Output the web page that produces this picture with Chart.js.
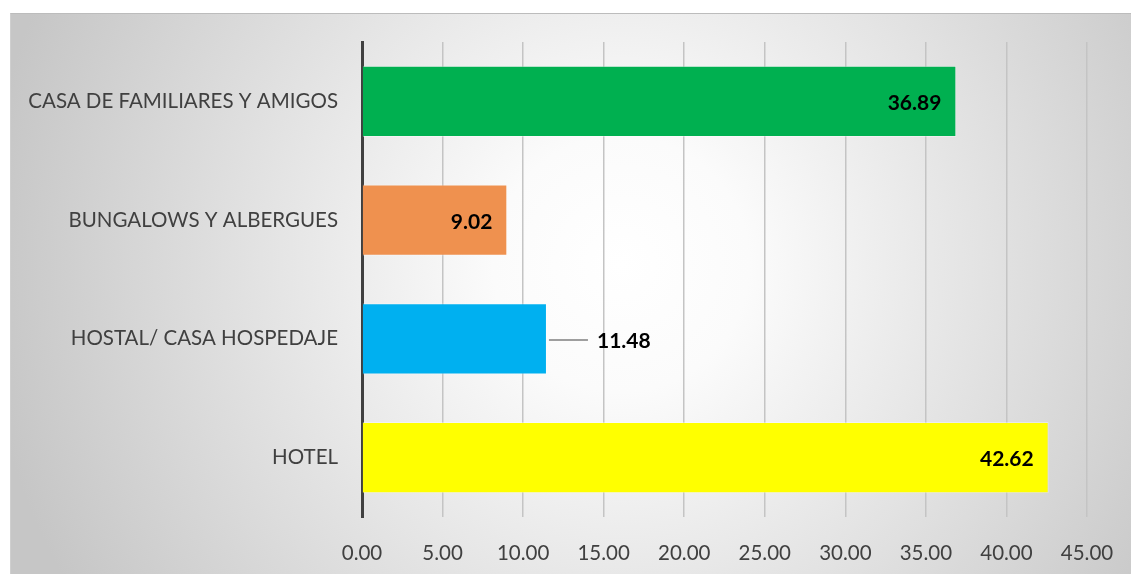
<!DOCTYPE html>
<html>
<head>
<meta charset="utf-8">
<script src="https://cdn.jsdelivr.net/npm/chart.js@4"></script>
<style>
  body { margin: 0; background: #fff; overflow: hidden; }
  #wrap {
    position: absolute; left: 10px; top: 13px; width: 1121px; height: 561px;
    border-top: 1.5px solid #bcbcbc; border-left: 1.5px solid #cfcfcf;
    background: radial-gradient(circle 640px at 610px 250px, #ffffff 0%, #fbfbfb 20%, #c6c6c6 100%);
  }
</style>
</head>
<body>
<div id="wrap"><canvas id="hotelChart" width="1120" height="560"></canvas></div>
<script>
const categories = ['CASA DE FAMILIARES Y AMIGOS', 'BUNGALOWS Y ALBERGUES', 'HOSTAL/ CASA HOSPEDAJE', 'HOTEL'];
const values = [36.89, 9.02, 11.48, 42.62];
const barColors = ['#00B050', '#EF914F', '#00B0F0', '#FFFF00'];
const tickMax = 45;
const tickStep = 5;

const FONT = 'Lato, "Open Sans", sans-serif';

// value labels, the hostal one sits outside with a short leader line
const valueLabels = {
  id: 'valueLabels',
  afterDatasetsDraw(chart) {
    const c = chart.ctx;
    const meta = chart.getDatasetMeta(0);
    c.save();
    c.font = 'bold 21px ' + FONT;
    c.fillStyle = '#000';
    c.textBaseline = 'middle';
    meta.data.forEach(function (bar, i) {
      const txt = values[i].toFixed(2);
      if (i === 2) {
        c.strokeStyle = '#7f7f7f';
        c.lineWidth = 1.5;
        c.beginPath();
        c.moveTo(bar.x + 2, bar.y + 1);
        c.lineTo(bar.x + 41, bar.y + 1);
        c.stroke();
        c.textAlign = 'left';
        c.fillText(txt, bar.x + 50, bar.y + 2);
      } else {
        c.textAlign = 'right';
        c.fillText(txt, bar.x - 15, bar.y + 2);
      }
    });
    c.restore();
  }
};

const ctx = document.getElementById('hotelChart').getContext('2d');

var barChart = new Chart(ctx, {
  type: 'bar',
  data: {
    labels: categories,
    datasets: [{
      data: values,
      backgroundColor: barColors,
      borderColor: 'rgba(255,255,255,0.35)',
      borderWidth: 1,
      barPercentage: 0.6,
      categoryPercentage: 1
    }]
  },
  plugins: [valueLabels],
  options: {
    indexAxis: 'y',
    responsive: false,
    animation: false,
    layout: { padding: { top: 28, right: 44, bottom: 0, left: 0 } },
    plugins: { legend: { display: false }, tooltip: { enabled: false } },
    scales: {
      x: {
        min: 0,
        max: tickMax,
        ticks: {
          stepSize: tickStep,
          padding: 24,
          color: '#404040',
          font: { family: FONT, size: 20.5 },
          callback: function (v) { return v.toFixed(2); }
        },
        grid: { color: '#c4c4c4', lineWidth: 1.5, drawTicks: false },
        border: { display: false },
        afterFit: function (s) {
          s.height = 57;
          s.paddingLeft = 0;
          s.paddingRight = 0;
        }
      },
      y: {
        ticks: {
          padding: 24,
          color: '#404040',
          font: { family: FONT, size: 20.5 }
        },
        grid: { display: false, drawTicks: false },
        border: { display: true, color: '#404040', width: 3 },
        afterFit: function (s) {
          s.width = 351;
          s.paddingTop = 0;
          s.paddingBottom = 0;
        }
      }
    }
  }
});
</script>
</body>
</html>
